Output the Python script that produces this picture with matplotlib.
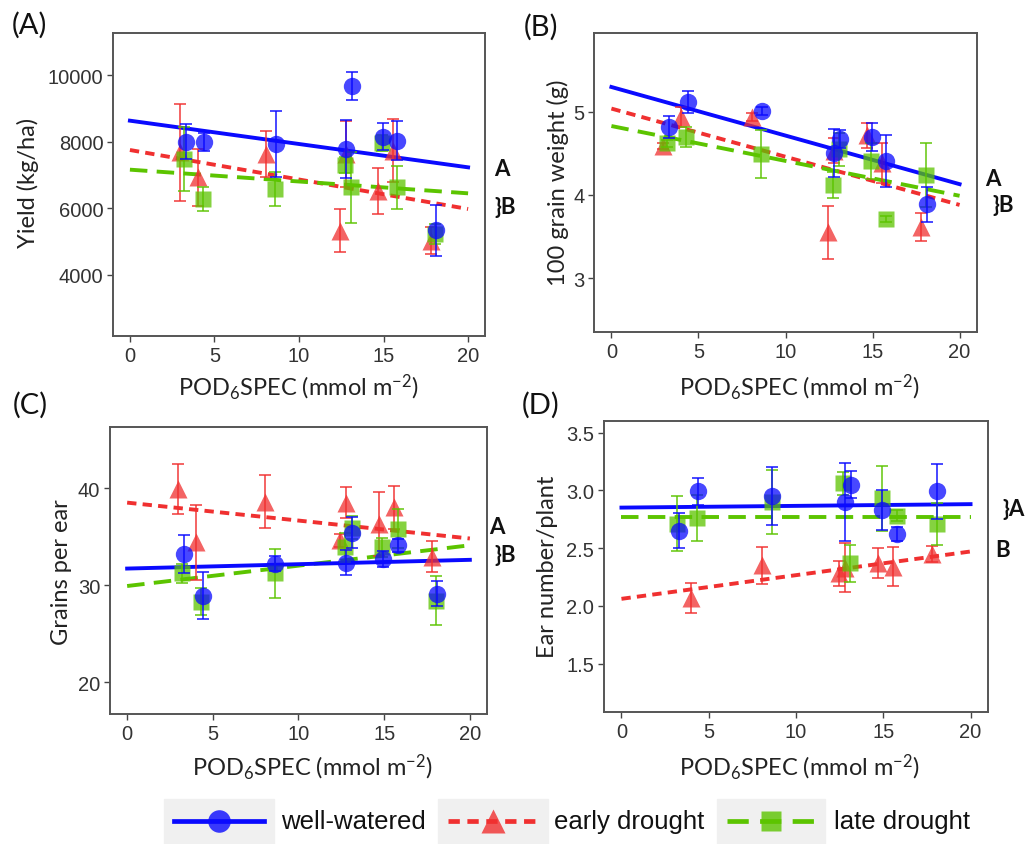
import matplotlib
matplotlib.use("Agg")
import matplotlib.pyplot as plt
from matplotlib.patches import Rectangle
import numpy as np

plt.rcParams["mathtext.fontset"] = "custom"
plt.rcParams["mathtext.rm"] = "Lato"
plt.rcParams["mathtext.it"] = "Lato:italic"

W, H = 1031, 845

# POD6SPEC per treatment plot, one list per water regime
x_ww = [3.3, 4.4, 8.65, 12.8, 13.15, 14.95, 15.8, 18.1]
x_ed = [2.95, 4.0, 8.05, 12.45, 12.8, 14.7, 15.55, 17.8]
x_ld = [3.2, 4.3, 8.6, 12.7, 13.1, 14.9, 15.8, 18.05]

# (A) yield, kg/ha
yield_ww = [8000, 7980, 7930, 7780, 9680, 8150, 8030, 5340]
yield_ww_se = [530, 270, 1000, 870, 420, 400, 580, 770]
yield_ed = [7680, 6930, 7630, 5330, 7630, 6530, 7730, 5030]
yield_ed_se = [1450, 850, 680, 650, 1000, 690, 950, 400]
yield_ld = [7480, 6280, 6580, 7300, 6630, 7960, 6630, 5230]
yield_ld_se = [950, 370, 510, 250, 1070, 250, 650, 300]

# (B) 100 grain weight, g
gw_ww = [4.82, 5.12, 5.01, 4.51, 4.67, 4.70, 4.41, 3.89]
gw_ww_se = [0.13, 0.13, 0.05, 0.29, 0.11, 0.17, 0.31, 0.21]
gw_ed = [4.59, 4.94, 4.94, 3.55, 4.53, 4.72, 4.38, 3.61]
gw_ed_se = [0.04, 0.12, 0.05, 0.32, 0.15, 0.15, 0.24, 0.17]
gw_ld = [4.62, 4.70, 4.49, 4.12, 4.55, 4.41, 3.71, 4.24]
gw_ld_se = [0.04, 0.12, 0.29, 0.16, 0.20, 0.22, 0.04, 0.38]

# (C) grains per ear
gpe_ww = [33.2, 28.9, 32.2, 32.3, 35.4, 32.7, 34.1, 29.1]
gpe_ww_se = [2.0, 2.4, 0.8, 1.3, 1.6, 0.8, 0.7, 1.3]
gpe_ed = [39.9, 34.4, 38.6, 34.6, 38.5, 36.3, 38.0, 32.9]
gpe_ed_se = [2.6, 3.9, 2.7, 0.7, 1.6, 3.3, 2.2, 1.6]
gpe_ld = [31.2, 28.3, 31.2, 33.9, 35.9, 33.9, 35.8, 28.4]
gpe_ld_se = [1.0, 1.4, 2.5, 1.5, 1.2, 1.0, 2.0, 2.5]

# (D) ear number per plant (no early-drought value for the first plot)
ear_ww = [2.65, 2.99, 2.95, 2.90, 3.05, 2.83, 2.62, 2.99]
ear_ww_se = [0.15, 0.12, 0.25, 0.34, 0.12, 0.17, 0.06, 0.24]
ear_ed = [np.nan, 2.07, 2.35, 2.28, 2.33, 2.37, 2.34, 2.45]
ear_ed_se = [np.nan, 0.13, 0.16, 0.11, 0.21, 0.13, 0.17, 0.07]
ear_ld = [2.71, 2.76, 2.90, 3.06, 2.37, 2.93, 2.78, 2.71]
ear_ld_se = [0.24, 0.20, 0.28, 0.10, 0.16, 0.28, 0.05, 0.18]

# fitted regression lines: value at POD6SPEC = 0 and at 20
fit_x = [0, 20]
fit_yield = {"ww": [8630, 7230], "ed": [7750, 5980], "ld": [7160, 6450]}
fit_gw = {"ww": [5.30, 4.13], "ed": [5.04, 3.88], "ld": [4.83, 3.99]}
fit_gpe = {"ww": [31.7, 32.6], "ed": [38.5, 34.8], "ld": [29.9, 34.1]}
fit_ear = {"ww": [2.85, 2.88], "ed": [2.06, 2.47], "ld": [2.77, 2.77]}

legend_labels = ["well-watered", "early drought", "late drought"]

styles = {
    "ww": dict(color="#0a0aff", marker="o", ms=12.5, ls="-", z=5),
    "ed": dict(color="#f03030", marker="^", ms=13.5, ls=(0, (2.4, 1.6)), z=3),
    "ld": dict(color="#5cc400", marker="s", ms=11.5, ls=(0, (4.5, 2.4)), z=4),
}

TICK_FONT = "Liberation Sans"
LABEL_FONT = "Lato"


def px(x, y):
    return x / W, 1 - y / H


def axes_box(left, top, right, bottom):
    return [left / W, 1 - bottom / H, (right - left) / W, (bottom - top) / H]


def draw_panel(ax, series, fits, ylim, yticks, yfmt):
    for key in ["ed", "ld", "ww"]:
        st = styles[key]
        ax.plot(fit_x, fits[key], color=st["color"], lw=2.8, ls=st["ls"], zorder=2)
    for key in ["ed", "ld", "ww"]:
        st = styles[key]
        xs, ys, es = series[key]
        ax.errorbar(xs, ys, yerr=es, fmt="none", ecolor=st["color"], elinewidth=1.4,
                    capsize=4.5, capthick=1.4, alpha=0.75, zorder=st["z"])
        ax.plot(xs, ys, ls="none", marker=st["marker"], ms=st["ms"], color=st["color"],
                mec="none", alpha=0.75, zorder=st["z"])
    ax.set_xlim(-1, 21)
    ax.set_ylim(*ylim)
    ax.set_xticks([0, 5, 10, 15, 20])
    ax.set_yticks(yticks)
    ax.set_yticklabels([yfmt.format(v) for v in yticks])
    for lab in ax.get_xticklabels() + ax.get_yticklabels():
        lab.set_fontfamily(TICK_FONT)
        lab.set_fontsize(14.5)
        lab.set_color("#333333")
    ax.tick_params(length=4, width=1, color="#444444", pad=3)
    for sp in ax.spines.values():
        sp.set_color("#555555")
        sp.set_linewidth(1.4)


fig = plt.figure(figsize=(W / 100, H / 100), dpi=100)

ax_a = fig.add_axes(axes_box(113, 34, 485, 337))
ax_b = fig.add_axes(axes_box(594, 34, 977, 333))
ax_c = fig.add_axes(axes_box(110, 428, 487, 715))
ax_d = fig.add_axes(axes_box(604, 422, 988, 713))

draw_panel(ax_a, {"ww": (x_ww, yield_ww, yield_ww_se), "ed": (x_ed, yield_ed, yield_ed_se),
                  "ld": (x_ld, yield_ld, yield_ld_se)},
           fit_yield, (2170, 11260), [4000, 6000, 8000, 10000], "{:.0f}")
draw_panel(ax_b, {"ww": (x_ww, gw_ww, gw_ww_se), "ed": (x_ed, gw_ed, gw_ed_se),
                  "ld": (x_ld, gw_ld, gw_ld_se)},
           fit_gw, (2.35, 5.95), [3, 4, 5], "{:.0f}")
draw_panel(ax_c, {"ww": (x_ww, gpe_ww, gpe_ww_se), "ed": (x_ed, gpe_ed, gpe_ed_se),
                  "ld": (x_ld, gpe_ld, gpe_ld_se)},
           fit_gpe, (16.7, 46.3), [20, 30, 40], "{:.0f}")
draw_panel(ax_d, {"ww": (x_ww, ear_ww, ear_ww_se), "ed": (x_ed, ear_ed, ear_ed_se),
                  "ld": (x_ld, ear_ld, ear_ld_se)},
           fit_ear, (1.08, 3.60), [1.5, 2.0, 2.5, 3.0, 3.5], "{:.1f}")

# axis titles, panel tags and significance letters
xlab = r"POD$_6$SPEC (mmol m$^{\mathrm{-2}}$)"
for x, y in [(298, 387), (799, 387), (312, 767), (799, 767)]:
    fig.text(*px(x, y), xlab, ha="center", va="center", fontsize=17, family=LABEL_FONT, color="#222222")

for text, x, y in [("Yield (kg/ha)", 28, 183), ("100 grain weight (g)", 558, 183),
                   ("Grains per ear", 62, 572), ("Ear number/plant", 547, 567)]:
    fig.text(*px(x, y), text, ha="center", va="center", rotation=90, fontsize=17,
             family=LABEL_FONT, color="#222222")

for text, x, y in [("(A)", 29, 25), ("(B)", 541, 27), ("(C)", 30, 405), ("(D)", 541, 405)]:
    fig.text(*px(x, y), text, ha="center", va="center", fontsize=21, family=LABEL_FONT, color="#111111")

for text, x, y in [("A", 502, 170), ("}B", 505, 208), ("A", 993, 180), ("}B", 1003, 206),
                   ("A", 497, 528), ("}B", 505, 556), ("}A", 1014, 510), ("B", 1003, 551)]:
    fig.text(*px(x, y), text, ha="center", va="center", fontsize=16, family=LABEL_FONT,
             weight="bold", color="#111111")

# legend strip along the bottom
leg = fig.add_axes([0, 0, 1, 50 / H])
leg.set_xlim(0, W)
leg.set_ylim(845, 795)
leg.axis("off")
key_boxes = [(164, 274), (438, 548), (717, 825)]
text_x = [281, 554, 834]
for key, (x0, x1), tx, label in zip(["ww", "ed", "ld"], key_boxes, text_x, legend_labels):
    st = styles[key]
    leg.add_patch(Rectangle((x0, 800), x1 - x0, 45, color="#f0f0f0", zorder=1))
    leg.plot([x0 + 10, x1 - 10], [822, 822], color=st["color"], lw=3.4, ls=st["ls"], zorder=2)
    leg.plot([(x0 + x1) / 2], [822], marker=st["marker"], ms=st["ms"] * 1.3, color=st["color"],
             mec="none", alpha=0.8, ls="none", zorder=3)
    leg.text(tx, 822, label, ha="left", va="center", fontsize=18.5, family=TICK_FONT, color="#111111")

fig.savefig("out.png", dpi=100)
